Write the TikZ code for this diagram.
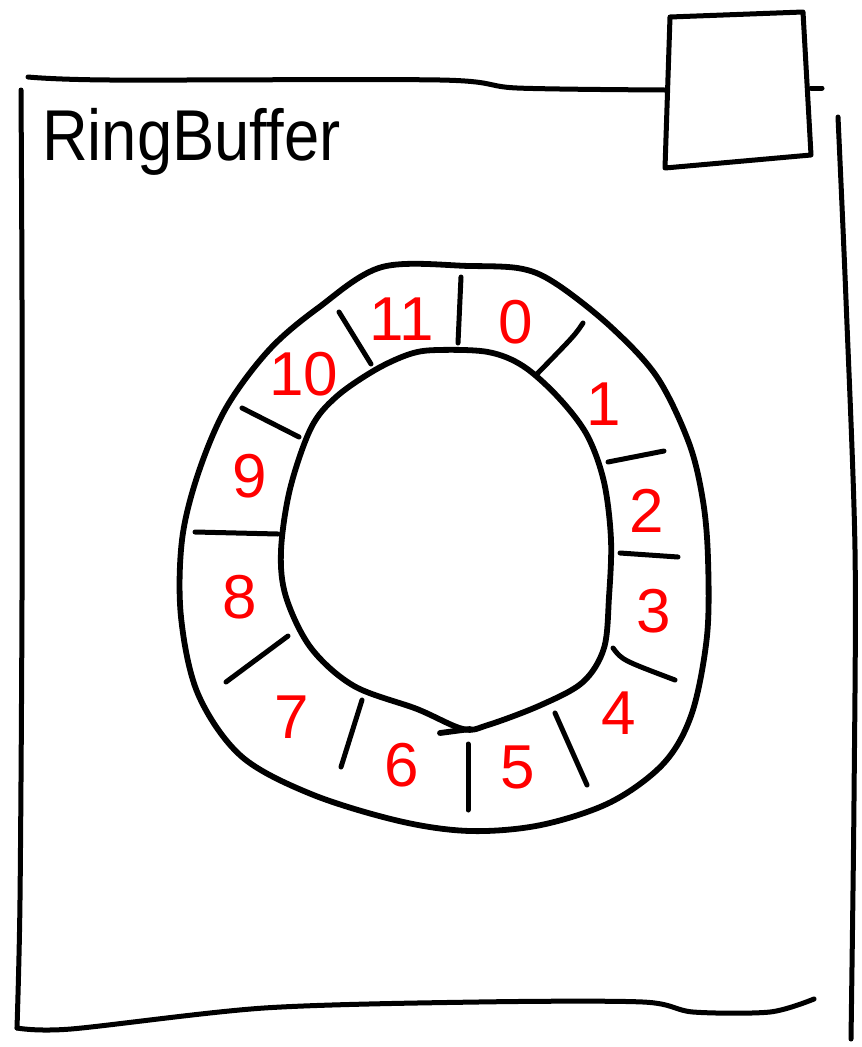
\documentclass[tikz,border=0pt]{standalone}
\usepackage{fontspec}
\setmainfont{Liberation Sans}
\begin{document}
\begin{tikzpicture}[x=1pt,y=-1pt,
  pen/.style={line width=5pt,line cap=round,line join=round,black},
  ringpen/.style={line width=5.8pt,line cap=round,line join=round,black},
  tickpen/.style={line width=5pt,line cap=round,black},
  num/.style={text=red,font=\fontsize{62}{62}\selectfont,inner sep=0pt},
  title/.style={font=\fontsize{72}{72}\selectfont,inner sep=0pt,anchor=base west,xscale=0.88}]
\useasboundingbox (0,0) rectangle (862,1047);
\fill[white] (0,0) rectangle (862,1047);
% frame
\draw[pen] plot[smooth,tension=0.5] coordinates {(28,77) (110,80) (440,80) (517,88) (665,90)};
\draw[pen] (811,88) -- (822,88);
\draw[pen] plot[smooth,tension=0.5] coordinates {(21,90) (22,300) (22,600) (20,900) (17,1028)};
\draw[pen] plot[smooth,tension=0.5] coordinates {(17,1028) (71,1029) (264,1008) (478,1002) (643,1002) (693,1012) (770,1012) (814,999)};
\draw[pen] plot[smooth,tension=0.5] coordinates {(838,117) (846,300) (855,550) (854,800) (851,1039)};
% small square
\draw[pen] (670,17) -- (803,12) -- (811,155) -- (665,168) -- cycle;
% title
\node[title] (ttl) at (42,160) {RingBuffer};
% outer ring
\draw[ringpen] plot[smooth cycle,tension=0.55] coordinates {
 (382,267) (470,266) (523,269) (558,285) (611,327) (657,377) (689,443) (703,501)
 (708,559) (707,636) (692,713) (664,763) (611,802) (541,825) (470,831) (399,821)
 (311,794) (241,756) (198,694) (181,617) (182,540) (198,474) (226,408) (269,350) (318,308)};
% inner ring
\draw[ringpen] plot[smooth cycle,tension=0.55] coordinates {
 (438,350) (488,352) (523,366) (558,397) (587,435) (604,482) (611,540) (609,597)
 (604,648) (583,682) (541,705) (488,725) (463,729) (417,709) (354,686) (311,648)
 (286,597) (281,551) (290,489) (311,428) (336,397) (375,370) (410,354)};
\draw[ringpen] (440,733) -- (470,729);
% ticks
\draw[tickpen] (461,277) -- (458,343);
\draw[tickpen] (583,323) .. controls (575,335) .. (537,374);
\draw[tickpen] (608,462) -- (664,451);
\draw[tickpen] (620,553) -- (678,557);
\draw[tickpen] (613,648) .. controls (622,660) .. (675,680);
\draw[tickpen] (555,713) -- (587,785);
\draw[tickpen] (468,744) -- (468,810);
\draw[tickpen] (362,700) -- (341,767);
\draw[tickpen] (288,636) -- (226,682);
\draw[tickpen] (195,532) -- (278,534);
\draw[tickpen] (242,408) -- (299,437);
\draw[tickpen] (339,312) -- (371,364);
% numbers
\node[num] (n0) at (516,322) {0};
\node[num] (n1) at (604,404) {1};
\node[num] (n2) at (647,511) {2};
\node[num] (n3) at (654,611) {3};
\node[num] (n4) at (619,713) {4};
\node[num] (n5) at (518,767) {5};
\node[num] (n6) at (402,765) {6};
\node[num] (n7) at (292,717) {7};
\node[num] (n8) at (240,597) {8};
\node[num] (n9) at (250,476) {9};
\node[num] (n10) at (304,374) {10};
\node[num] (n11) at (402,319) {11};
\end{tikzpicture}
\end{document}
